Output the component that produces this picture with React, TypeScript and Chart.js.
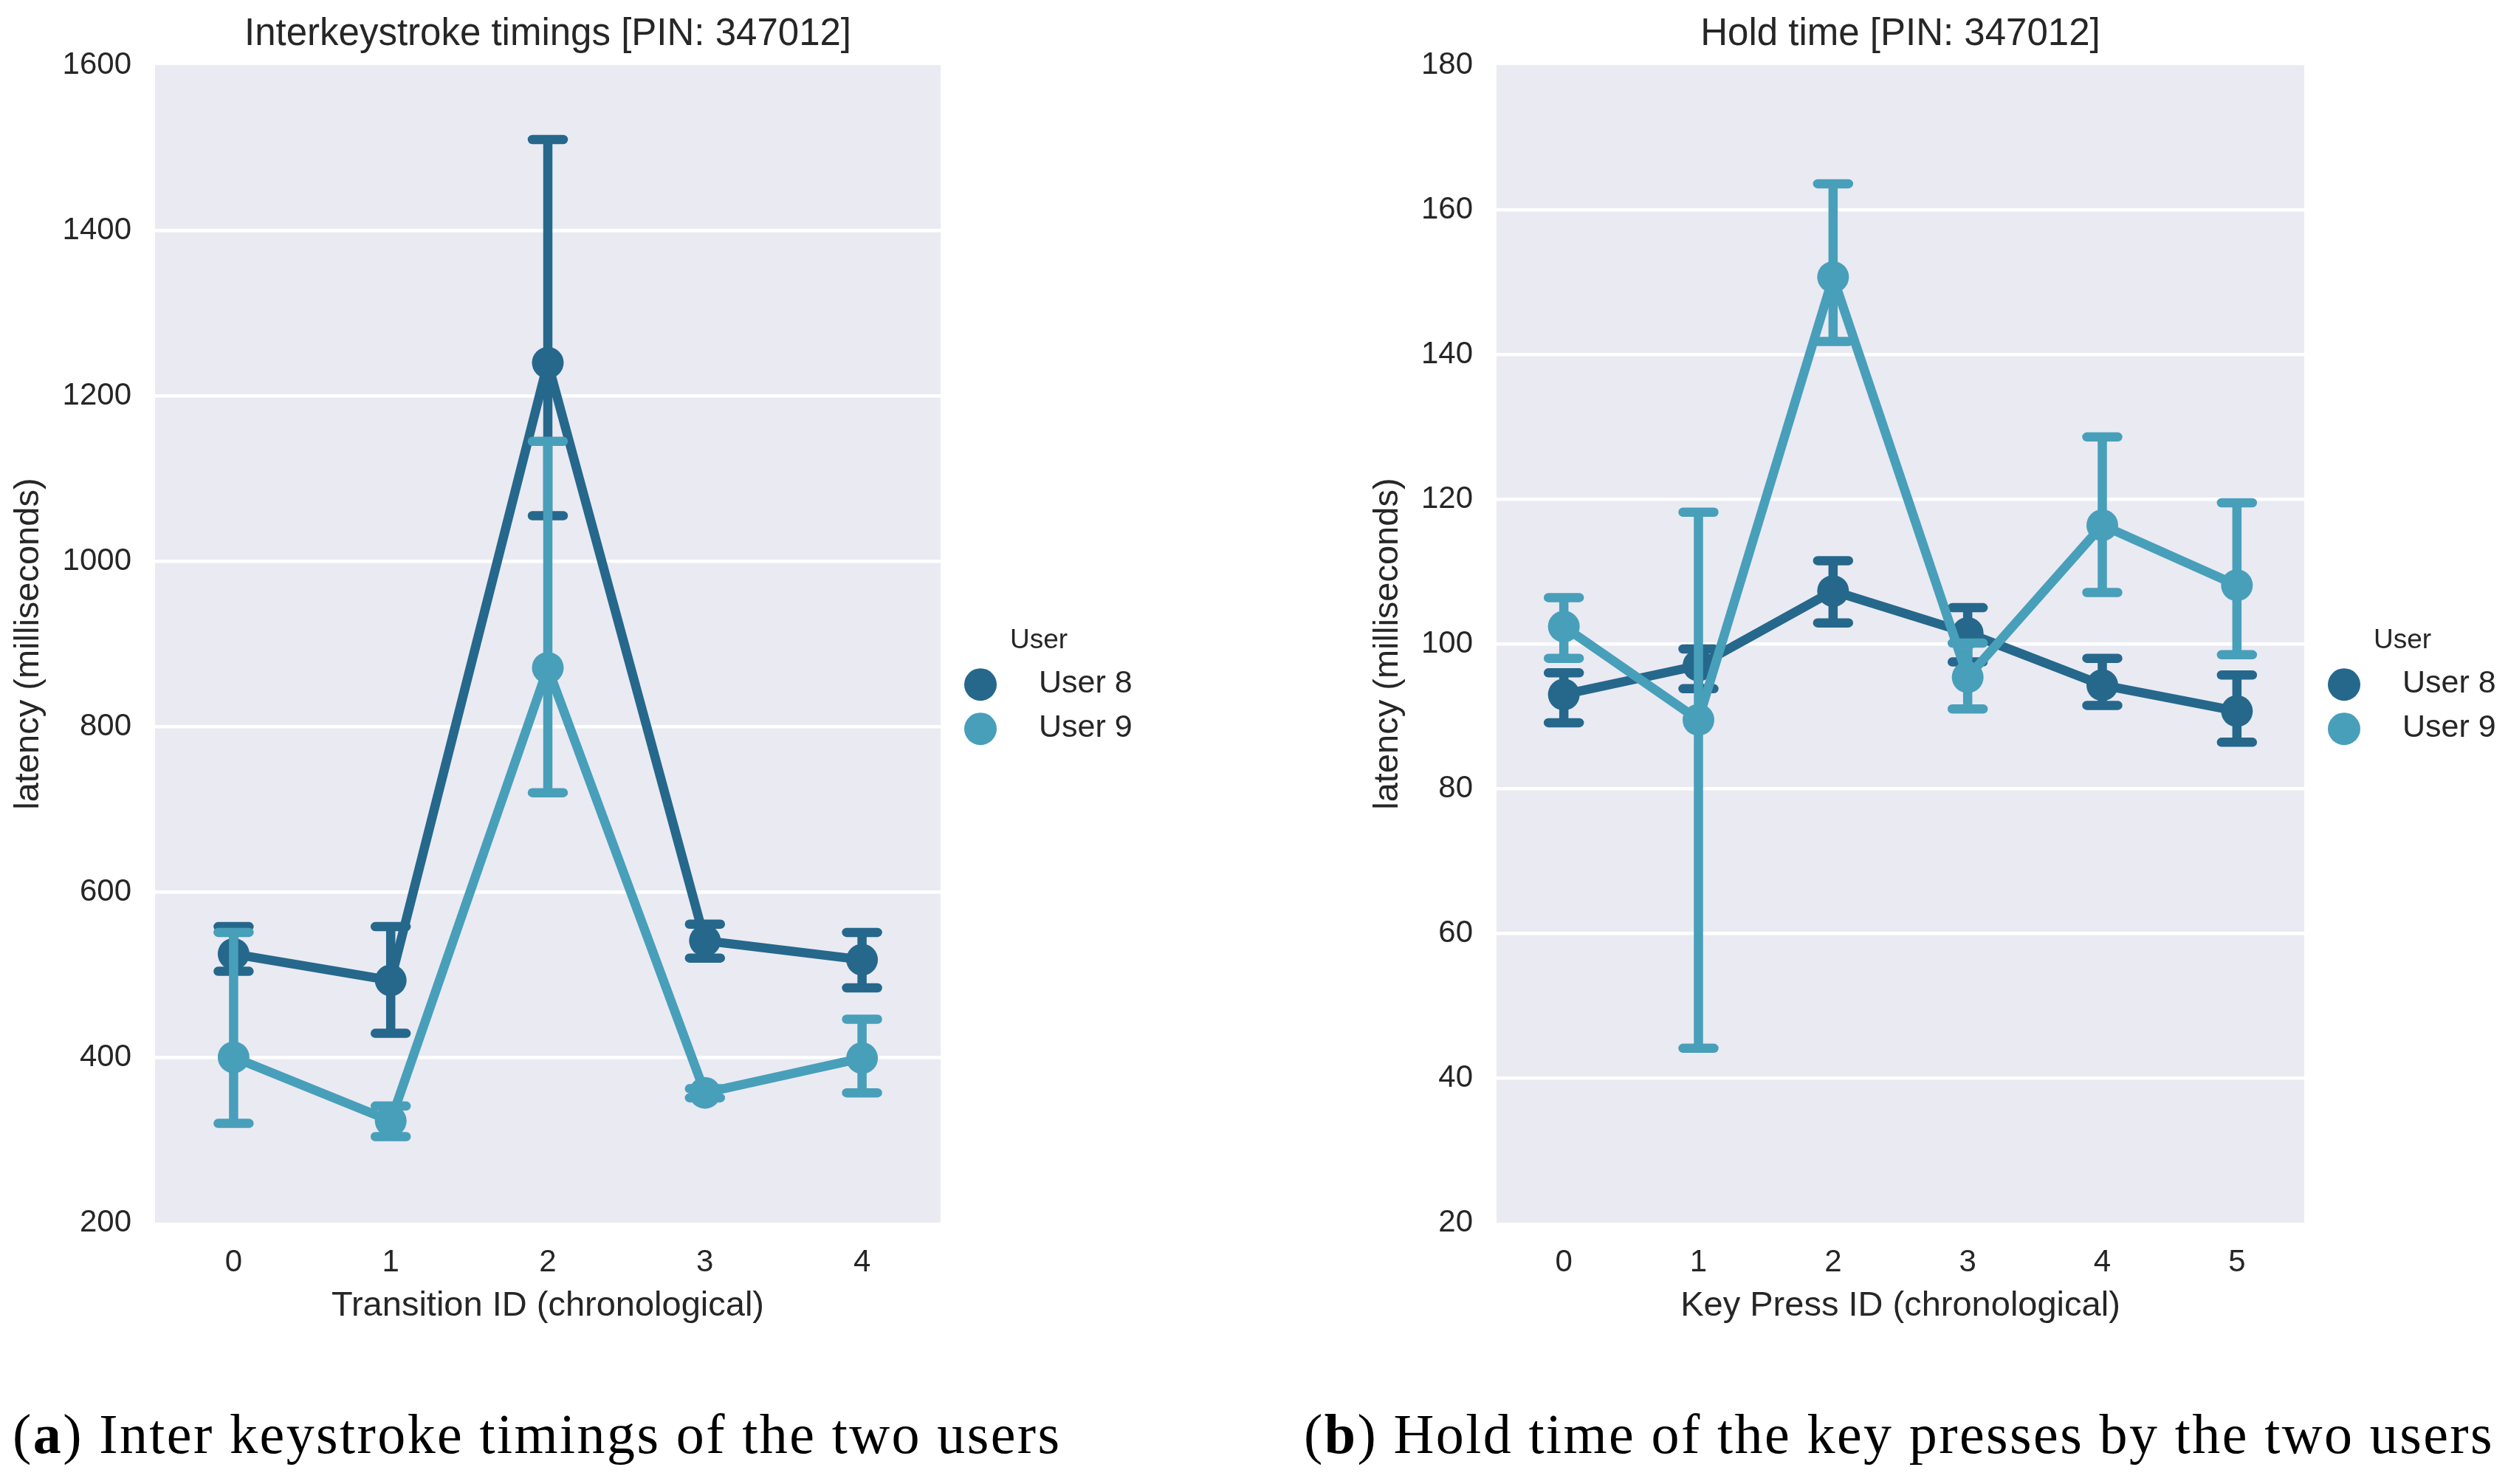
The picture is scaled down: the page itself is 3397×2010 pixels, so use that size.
import React, { useEffect, useRef } from 'react';
import { Chart, registerables } from 'chart.js';

Chart.register(...registerables);

// categories
const transitionIds = ['0', '1', '2', '3', '4'];
const keyPressIds = ['0', '1', '2', '3', '4', '5'];
const userNames = ['User 8', 'User 9'];

// tick labels
const interTicks = [200, 400, 600, 800, 1000, 1200, 1400, 1600];
const holdTicks = [20, 40, 60, 80, 100, 120, 140, 160, 180];

// inter keystroke timings (ms): mean and error bar ends
const interUser8 = [525, 493, 1240, 541, 518];
const interUser8Low = [504, 429, 1055, 520, 484];
const interUser8High = [558, 558, 1510, 561, 551];
const interUser9 = [400, 323, 871, 357, 399];
const interUser9Low = [320, 304, 720, 351, 357];
const interUser9High = [551, 341, 1145, 362, 446];

// hold times (ms)
const holdUser8 = [93.0, 97.0, 107.3, 101.5, 94.3, 90.7];
const holdUser8Low = [89.1, 93.8, 102.9, 97.5, 91.5, 86.4];
const holdUser8High = [96.0, 99.3, 111.5, 105.0, 98.0, 95.7];
const holdUser9 = [102.4, 89.5, 150.7, 95.4, 116.4, 108.1];
const holdUser9Low = [98.0, 44.1, 141.8, 91.0, 107.1, 98.5];
const holdUser9High = [106.4, 118.2, 163.6, 100.1, 128.6, 119.5];

const colors = ['#25688C', '#489FBA'];
const FONT = "'Liberation Sans', Arial, sans-serif";
const TEXT = '#262626';

const plotBackground = {
  id: 'plotBackground',
  beforeDraw(chart: any) {
    const { ctx, chartArea } = chart;
    ctx.save();
    ctx.fillStyle = '#EAEAF2';
    ctx.fillRect(chartArea.left, chartArea.top, chartArea.right - chartArea.left, chartArea.bottom - chartArea.top);
    ctx.restore();
  },
};

// error bars drawn just under each series, so User 9 sits over User 8
const errorBars = {
  id: 'errorBars',
  beforeDatasetDraw(chart: any, args: any) {
    const ds = chart.data.datasets[args.index];
    const y = chart.scales.y;
    const ctx = chart.ctx;
    ctx.save();
    ctx.strokeStyle = ds.borderColor;
    ctx.lineWidth = 12.5;
    ctx.lineCap = 'round';
    args.meta.data.forEach((pt: any, i: number) => {
      const lo = y.getPixelForValue(ds.errLow[i]);
      const hi = y.getPixelForValue(ds.errHigh[i]);
      ctx.beginPath();
      ctx.moveTo(pt.x, lo);
      ctx.lineTo(pt.x, hi);
      ctx.moveTo(pt.x - 21, lo);
      ctx.lineTo(pt.x + 21, lo);
      ctx.moveTo(pt.x - 21, hi);
      ctx.lineTo(pt.x + 21, hi);
      ctx.stroke();
    });
    ctx.restore();
  },
};

const userLegend = {
  id: 'userLegend',
  afterDraw(chart: any) {
    const { ctx, chartArea } = chart;
    const x0 = chartArea.right;
    const y0 = chartArea.top;
    ctx.save();
    ctx.fillStyle = TEXT;
    ctx.textBaseline = 'alphabetic';
    ctx.textAlign = 'left';
    ctx.font = `37px ${FONT}`;
    ctx.fillText('User', x0 + 94, y0 + 790);
    chart.data.datasets.forEach((ds: any, i: number) => {
      ctx.fillStyle = ds.borderColor;
      ctx.beginPath();
      ctx.arc(x0 + 54, y0 + 839 + i * 60, 22, 0, Math.PI * 2);
      ctx.fill();
      ctx.fillStyle = TEXT;
      ctx.font = `43px ${FONT}`;
      ctx.fillText(ds.label, x0 + 133, y0 + 850 + i * 60);
    });
    ctx.restore();
  },
};

type PanelProps = {
  left: number;
  width: number;
  height: number;
  labels: string[];
  series: number[][];
  lows: number[][];
  highs: number[][];
  ticks: number[];
  title: string;
  xTitle: string;
  padLeft: number;
  yAxisWidth: number;
  padRight: number;
};

const PointPanel: React.FC<PanelProps> = (p) => {
  const canvasRef = useRef<HTMLCanvasElement | null>(null);

  useEffect(() => {
    if (!canvasRef.current) return;
    const last = p.ticks.length - 1;
    const chart = new Chart(canvasRef.current, {
      type: 'line',
      data: {
        labels: p.labels,
        datasets: p.series.map((values, i) => ({
          label: userNames[i],
          data: values,
          errLow: p.lows[i],
          errHigh: p.highs[i],
          borderColor: colors[i],
          backgroundColor: colors[i],
          borderWidth: 12.5,
          borderJoinStyle: 'round',
          pointRadius: 21.5,
          pointHoverRadius: 21.5,
          pointBorderWidth: 0,
          pointBackgroundColor: colors[i],
          tension: 0,
          fill: false,
          order: 2 - i,
        })) as any,
      },
      options: {
        responsive: false,
        animation: false,
        devicePixelRatio: 1,
        layout: { padding: { left: p.padLeft, right: p.padRight, top: 0, bottom: 0 } },
        plugins: {
          legend: { display: false },
          tooltip: { enabled: false },
          title: {
            display: true,
            text: p.title,
            fullSize: false,
            color: TEXT,
            font: { family: FONT, size: 51, weight: 'normal' },
            padding: { top: 16, bottom: 11 },
          },
        },
        scales: {
          x: {
            type: 'category',
            offset: true,
            grid: { display: false },
            border: { display: false },
            ticks: { color: TEXT, font: { family: FONT, size: 42 }, padding: 21 },
            title: {
              display: true,
              text: p.xTitle,
              color: TEXT,
              font: { family: FONT, size: 47 },
              padding: { top: 0, bottom: 53 },
            },
            afterFit: (scale: any) => {
              scale.height = p.height - 1656;
            },
          },
          y: {
            min: p.ticks[0],
            max: p.ticks[last],
            grid: {
              color: (c: any) => (c.index === 0 || c.index === last ? 'rgba(0,0,0,0)' : '#FFFFFF'),
              lineWidth: 4.5,
              drawTicks: false,
            },
            border: { display: false },
            ticks: {
              color: TEXT,
              font: { family: FONT, size: 42 },
              padding: 32,
              callback: (value: any) => String(value),
            },
            afterBuildTicks: (scale: any) => {
              scale.ticks = p.ticks.map((v) => ({ value: v }));
            },
            title: {
              display: true,
              text: 'latency (milliseconds)',
              color: TEXT,
              font: { family: FONT, size: 47 },
              padding: { top: 11, bottom: 0 },
            },
            afterFit: (scale: any) => {
              scale.width = p.yAxisWidth;
            },
          },
        },
      },
      plugins: [plotBackground, errorBars, userLegend],
    });
    return () => {
      chart.destroy();
    };
  }, []);

  return (
    <canvas
      ref={canvasRef}
      width={p.width}
      height={p.height}
      style={{ position: 'absolute', left: p.left, top: 0, width: p.width, height: p.height }}
    />
  );
};

const captionStyle: React.CSSProperties = {
  position: 'absolute',
  top: 1904,
  fontFamily: "'Liberation Serif', 'DejaVu Serif', serif",
  fontSize: 76,
  letterSpacing: '2.4px',
  lineHeight: 1,
  color: '#000',
  whiteSpace: 'nowrap',
};

const App: React.FC = () => {
  return (
    <div style={{ position: 'absolute', left: 0, top: 0, width: 3397, height: 2010, background: '#fff', overflow: 'hidden' }}>
      <PointPanel
        left={0}
        width={1700}
        height={1850}
        labels={transitionIds}
        series={[interUser8, interUser9]}
        lows={[interUser8Low, interUser9Low]}
        highs={[interUser8High, interUser9High]}
        ticks={interTicks}
        title="Interkeystroke timings [PIN: 347012]"
        xTitle="Transition ID (chronological)"
        padLeft={0}
        yAxisWidth={210}
        padRight={426}
      />
      <PointPanel
        left={1700}
        width={1697}
        height={1850}
        labels={keyPressIds}
        series={[holdUser8, holdUser9]}
        lows={[holdUser8Low, holdUser9Low]}
        highs={[holdUser8High, holdUser9High]}
        ticks={holdTicks}
        title="Hold time [PIN: 347012]"
        xTitle="Key Press ID (chronological)"
        padLeft={141}
        yAxisWidth={186}
        padRight={276}
      />
      <div style={{ ...captionStyle, left: 17 }}>
        (<b>a</b>) Inter keystroke timings of the two users
      </div>
      <div style={{ ...captionStyle, left: 1766 }}>
        (<b>b</b>) Hold time of the key presses by the two users
      </div>
    </div>
  );
};

export default App;
